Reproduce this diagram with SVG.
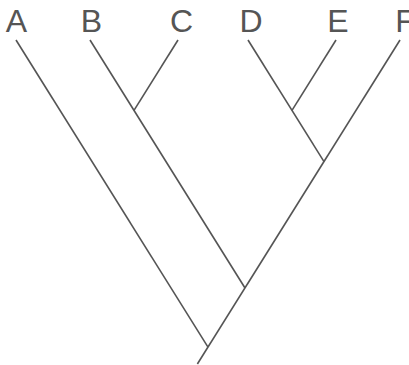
<svg xmlns="http://www.w3.org/2000/svg" width="409" height="365" viewBox="0 0 409 365">
<style>
.lbl{font-family:"Liberation Sans",Arial,sans-serif;font-size:32px;fill:#555;text-anchor:middle}
.edge{stroke:#555;stroke-width:1.6;fill:none;stroke-linecap:butt}
</style>
<rect width="409" height="365" fill="#fff"/>
<g id="connectors">
<path class="edge" d="M16,40 L208,347.2"/>
<path class="edge" d="M400,40 L197.4,364"/>
<path class="edge" d="M90,40 L245,288"/>
<path class="edge" d="M178,40 L134,110.4"/>
<path class="edge" d="M248,40 L324,161.6"/>
<path class="edge" d="M336,40 L292,110.4"/>
</g>
<g id="A"><text class="lbl" x="16.5" y="32">A</text></g>
<g id="B"><text class="lbl" x="91.5" y="32">B</text></g>
<g id="C"><text class="lbl" x="181.5" y="32">C</text></g>
<g id="D"><text class="lbl" x="251" y="32">D</text></g>
<g id="E"><text class="lbl" x="338" y="32">E</text></g>
<g id="F"><text class="lbl" x="405" y="32">F</text></g>
</svg>
